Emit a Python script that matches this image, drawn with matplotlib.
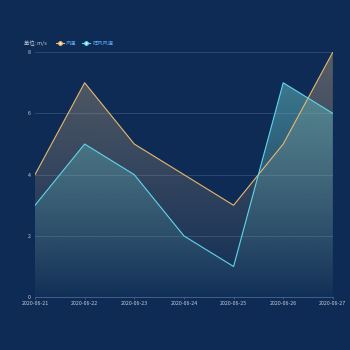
import matplotlib
matplotlib.use("Agg")
import matplotlib.pyplot as plt
import numpy as np
from matplotlib.colors import to_rgba
from matplotlib.lines import Line2D

plt.rcParams['font.family'] = ['Noto Sans CJK SC', 'DejaVu Sans']

dates = ["2020-06-21", "2020-06-22", "2020-06-23", "2020-06-24", "2020-06-25", "2020-06-26", "2020-06-27"]
wind = [4, 7, 5, 4, 3, 5, 8]
gust = [3, 5, 4, 2, 1, 7, 6]
series_names = ["风速", "阵风风速"]
yticks = [0, 2, 4, 6, 8]

bg = "#0d2b55"
c_wind = "#e8b86a"
c_gust = "#5fd6ee"
fill_wind = "#6a6a6a"
fill_gust = "#5aa7b0"

fig = plt.figure(figsize=(3.5, 3.5), dpi=100, facecolor=bg)
ax = fig.add_axes([0.1, 0.151, 0.851, 0.70])
ax.set_facecolor(bg)
x = np.arange(len(dates))

def grad_fill(y, color, a_top, z):
    poly = ax.fill_between(x, y, 0, color='none', zorder=z)
    path = poly.get_paths()[0]
    n = 256
    rgba = np.zeros((n, 1, 4))
    rgba[:, 0, :3] = to_rgba(color)[:3]
    rgba[:, 0, 3] = np.linspace(a_top, 0.03, n)
    im = ax.imshow(rgba, extent=[x[0], x[-1], 0, 8], origin='upper', aspect='auto',
                   zorder=z, interpolation='bilinear')
    im.set_clip_path(path, transform=ax.transData)

grad_fill(wind, fill_wind, 0.8, 1)
grad_fill(gust, fill_gust, 0.7, 2)
ax.plot(x, wind, color=c_wind, lw=0.8, zorder=4)
ax.plot(x, gust, color=c_gust, lw=0.8, zorder=4)

ax.set_xlim(x[0], x[-1])
ax.set_ylim(0, 8)
ax.set_xticks(x)
ax.set_xticklabels(dates)
ax.set_yticks(yticks)
ax.set_yticklabels([str(v) for v in yticks])
for t in yticks[1:]:
    ax.axhline(t, color="#9ab0c8", lw=0.5, alpha=0.3, zorder=3)
ax.tick_params(axis='y', colors="#c8d0dc", labelsize=3.8, length=0, pad=3)
ax.tick_params(axis='x', colors="#4a6a90", labelcolor="#c8d0dc", labelsize=3.8,
               length=1.5, width=0.5, pad=1.5)
for s in ['top', 'right', 'left']:
    ax.spines[s].set_visible(False)
ax.spines['bottom'].set_color("#4a6a90")
ax.spines['bottom'].set_linewidth(0.6)

fig.text(0.068, 0.877, "单位: m/s", color="#c8d0dc", fontsize=3.8, va='center')
handles = [Line2D([0], [0], color=c_wind, lw=0.8, marker='o', markersize=2.5,
                  markerfacecolor='white', markeredgecolor=c_wind),
           Line2D([0], [0], color=c_gust, lw=0.8, marker='o', markersize=2.5,
                  markerfacecolor='white', markeredgecolor=c_gust)]
leg = fig.legend(handles, series_names, loc='center left', bbox_to_anchor=(0.145, 0.877),
                 ncol=2, frameon=False, fontsize=3.8, handlelength=1.6,
                 handletextpad=0.4, columnspacing=1.0)
for t in leg.get_texts():
    t.set_color("#5fa8f0")

fig.savefig("out.png", dpi=100, facecolor=bg)
